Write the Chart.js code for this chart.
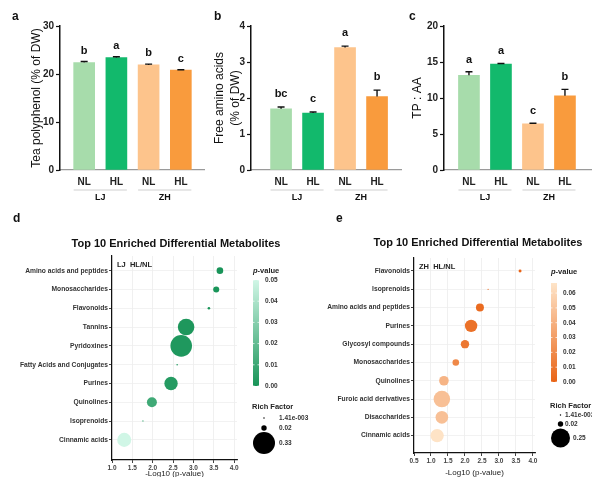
<!DOCTYPE html>
<html>
<head>
<meta charset="utf-8">
<script src="https://cdn.jsdelivr.net/npm/chart.js@4.4.0/dist/chart.umd.min.js"></script>
<style>
  html, body { margin: 0; padding: 0; background: #fff; }
  #fig { position: relative; width: 592px; height: 477px; overflow: hidden; }
  #fig canvas { position: absolute; }
  .tag { position: absolute; font: bold 12px 'Liberation Sans', Arial, sans-serif; line-height: 12px; color: #111; }
</style>
</head>
<body>
<div id="fig">
  <canvas id="chartA" width="205" height="205" style="left:0;top:0"></canvas>
  <canvas id="chartB" width="202" height="205" style="left:200px;top:0"></canvas>
  <canvas id="chartC" width="192" height="205" style="left:400px;top:0"></canvas>
  <canvas id="chartD" width="312" height="276" style="left:0;top:205px"></canvas>
  <canvas id="chartE" width="292" height="276" style="left:300px;top:205px"></canvas>
  <div class="tag" style="left:12px;top:10px">a</div>
  <div class="tag" style="left:214px;top:10px">b</div>
  <div class="tag" style="left:409px;top:10px">c</div>
  <div class="tag" style="left:13px;top:212px">d</div>
  <div class="tag" style="left:336px;top:212px">e</div>
</div>
<script>
const FONT = "'Liberation Sans', Arial, sans-serif";
Chart.defaults.font.family = FONT;

// top row: bars
const treatments = ['NL', 'HL', 'NL', 'HL'];
const groups = ['LJ', 'ZH'];
const barColors = ['#a7dcab', '#12b96c', '#fdc48c', '#f99b3d'];

const teaPolyphenol = [22.4, 23.4, 21.9, 20.8];
const teaPolyphenolErr = [0.2, 0.2, 0.15, 0.1];
const teaPolyphenolSig = ['b', 'a', 'b', 'c'];

const aminoAcids = [1.70, 1.58, 3.40, 2.04];
const aminoAcidsErr = [0.05, 0.03, 0.04, 0.18];
const aminoAcidsSig = ['bc', 'c', 'a', 'b'];

const tpAa = [13.15, 14.7, 6.4, 10.3];
const tpAaErr = [0.5, 0.1, 0.1, 0.9];
const tpAaSig = ['a', 'a', 'c', 'b'];

// bottom row: enrichment bubbles
const ljCategories = ['Amino acids and peptides', 'Monosaccharides', 'Flavonoids', 'Tannins', 'Pyridoxines',
  'Fatty Acids and Conjugates', 'Purines', 'Quinolines', 'Isoprenoids', 'Cinnamic acids'];
const ljNegLogP = [3.65, 3.56, 3.38, 2.82, 2.70, 2.60, 2.45, 1.98, 1.76, 1.30];
const ljRichFactor = [0.030, 0.025, 0.0046, 0.188, 0.318, 0.0017, 0.122, 0.068, 0.0014, 0.134];
const ljXTicks = [1.0, 1.5, 2.0, 2.5, 3.0, 3.5, 4.0];
const ljPTicks = [0, 0.01, 0.02, 0.03, 0.04, 0.05];
const ljSizeBreaks = [0.00141, 0.02, 0.33];
const ljSizeLabels = ['1.41e-003', '0.02', '0.33'];

const zhCategories = ['Flavonoids', 'Isoprenoids', 'Amino acids and peptides', 'Purines', 'Glycosyl compounds',
  'Monosaccharides', 'Quinolines', 'Furoic acid derivatives', 'Disaccharides', 'Cinnamic acids'];
const zhNegLogP = [3.62, 2.68, 2.44, 2.18, 2.00, 1.73, 1.38, 1.32, 1.32, 1.18];
const zhRichFactor = [0.0062, 0.001, 0.044, 0.106, 0.049, 0.030, 0.064, 0.19, 0.11, 0.124];
const zhXTicks = [0.5, 1.0, 1.5, 2.0, 2.5, 3.0, 3.5, 4.0];
const zhPTicks = [0, 0.01, 0.02, 0.03, 0.04, 0.05, 0.06];
const zhSizeBreaks = [0.00141, 0.02, 0.25];
const zhSizeLabels = ['1.41e-003', '0.02', '0.25'];

const barExtras = {
  id: 'barExtras',
  afterDatasetsDraw(chart, args, o) {
    const ctx = chart.ctx, xs = chart.scales.x, ys = chart.scales.y;
    const half = 10.5;
    ctx.save();
    chart.data.datasets[0].data.forEach((d, i) => {
      const x = xs.getPixelForValue(d.x);
      const y0 = ys.getPixelForValue(d.y);
      const y1 = ys.getPixelForValue(d.y + o.errors[i]);
      ctx.strokeStyle = '#111';
      ctx.lineWidth = 1.4;
      ctx.beginPath();
      ctx.moveTo(x, y0); ctx.lineTo(x, y1);
      ctx.moveTo(x - 3.5, y1); ctx.lineTo(x + 3.5, y1);
      ctx.stroke();
      ctx.fillStyle = '#111';
      ctx.font = 'bold 11px ' + FONT;
      ctx.textAlign = 'center';
      ctx.textBaseline = 'alphabetic';
      ctx.fillText(o.letters[i], x, y1 - o.gap);
    });
    const lineY = chart.chartArea.bottom + 20;
    groups.forEach((g, k) => {
      const xa = xs.getPixelForValue(2 * k) - half;
      const xb = xs.getPixelForValue(2 * k + 1) + half;
      ctx.strokeStyle = '#cfcfcf';
      ctx.lineWidth = 1.2;
      ctx.beginPath(); ctx.moveTo(xa, lineY); ctx.lineTo(xb, lineY); ctx.stroke();
      ctx.fillStyle = '#111';
      ctx.font = 'bold 9px ' + FONT;
      ctx.textAlign = 'center';
      ctx.textBaseline = 'middle';
      ctx.fillText(g, (xa + xb) / 2, lineY + 7.5);
    });
    ctx.restore();
  }
};

function barPanel(id, values, errors, letters, yMax, yStep, yTitle, titlePad, lineH, xMin, xMax, axisW, gap) {
  return new Chart(document.getElementById(id), {
    type: 'bar',
    data: {
      datasets: [{
        data: values.map((v, i) => ({ x: i, y: v })),
        backgroundColor: barColors,
        borderWidth: 0,
        barThickness: 21
      }]
    },
    options: {
      responsive: false,
      animation: false,
      layout: { padding: { top: 26, left: 0, right: 0, bottom: 0 } },
      plugins: {
        legend: { display: false },
        tooltip: { enabled: false },
        barExtras: { errors: errors, letters: letters, gap: gap }
      },
      scales: {
        x: {
          type: 'linear', min: xMin, max: xMax, offset: false,
          afterBuildTicks: s => { s.ticks = treatments.map((t, i) => ({ value: i })); },
          afterFit: s => { s.height = 35; },
          grid: { display: false, drawTicks: false },
          border: { color: '#9a9a9a', width: 1.3 },
          ticks: { callback: v => treatments[v], font: { size: 10, weight: 'bold' }, color: '#222', padding: 6, maxRotation: 0, autoSkip: false }
        },
        y: {
          min: 0, max: yMax,
          afterFit: s => { s.width = axisW; },
          grid: { drawOnChartArea: false, tickLength: 4, tickColor: '#111', tickWidth: 1.2 },
          border: { color: '#111', width: 1.5 },
          ticks: { stepSize: yStep, font: { size: 10, weight: 'bold' }, color: '#222', padding: 2 },
          title: { display: true, text: yTitle, font: { size: 12, lineHeight: lineH }, color: '#111', padding: { top: titlePad, bottom: 0 } }
        }
      }
    },
    plugins: [barExtras]
  });
}

barPanel('chartA', teaPolyphenol, teaPolyphenolErr, teaPolyphenolSig, 30, 10, 'Tea polyphenol (% of DW)', 29.8, 1.2, -0.75, 3.75, 60, 8);
barPanel('chartB', aminoAcids, aminoAcidsErr, aminoAcidsSig, 4, 1, ['Free amino acids', '(% of DW)'], 12.2, 1.3, -0.94, 3.78, 51, 10);
barPanel('chartC', tpAa, tpAaErr, tpAaSig, 20, 5, 'TP : AA', 10.8, 1.2, -0.78, 3.845, 44, 9);

// bubbles
function mix(c0, c1, t) {
  t = Math.max(0, Math.min(1, t));
  return 'rgb(' + c0.map((c, k) => Math.round(c + (c1[k] - c) * t)).join(',') + ')';
}

const enrichExtras = {
  id: 'enrichExtras',
  afterDraw(chart, args, o) {
    const ctx = chart.ctx, a = chart.chartArea;
    ctx.save();
    ctx.fillStyle = '#111';
    ctx.font = 'bold 11px ' + FONT;
    ctx.textAlign = 'center';
    ctx.textBaseline = 'middle';
    ctx.fillText(o.title, o.titleX, o.titleY);

    ctx.font = 'bold 7.5px ' + FONT;
    ctx.textAlign = 'left';
    ctx.fillStyle = '#222';
    ctx.fillText(o.tag, a.left + 5, o.tagY);

    // p-value colour bar
    const lx = a.right + 16, bw = 6;
    ctx.font = 'italic bold 7.5px ' + FONT;
    ctx.fillText('p', lx, o.pTitleY);
    const pw = ctx.measureText('p').width;
    ctx.font = 'bold 7.5px ' + FONT;
    ctx.fillText('-value', lx + pw, o.pTitleY);
    const g = ctx.createLinearGradient(0, o.barTop, 0, o.barBottom);
    g.addColorStop(0, mix(o.light, o.light, 0));
    g.addColorStop(1, mix(o.dark, o.dark, 0));
    ctx.fillStyle = g;
    ctx.fillRect(lx, o.barTop, bw, o.barBottom - o.barTop);
    ctx.font = 'bold 6.5px ' + FONT;
    o.pTicks.forEach(v => {
      const y = o.barBottom - v / o.pMax * (o.barBottom - o.barTop);
      ctx.strokeStyle = 'rgba(255,255,255,0.9)';
      ctx.lineWidth = 0.8;
      ctx.beginPath();
      ctx.moveTo(lx, y); ctx.lineTo(lx + 1.5, y);
      ctx.moveTo(lx + bw - 1.5, y); ctx.lineTo(lx + bw, y);
      ctx.stroke();
      ctx.fillStyle = '#333';
      ctx.fillText(v.toFixed(2), lx + bw + 6, y);
    });

    // rich factor size legend
    ctx.fillStyle = '#222';
    ctx.font = 'bold 7.5px ' + FONT;
    ctx.fillText('Rich Factor', lx - 1, o.sizeTitleY);
    ctx.font = 'bold 6.5px ' + FONT;
    o.sizeBreaks.forEach((v, i) => {
      const r = o.rRef * Math.sqrt(v / o.vRef);
      ctx.fillStyle = '#000';
      ctx.beginPath();
      ctx.arc(lx + o.rRef, o.sizeY[i], Math.max(r, 0.6), 0, Math.PI * 2);
      ctx.fill();
      ctx.fillStyle = '#333';
      ctx.fillText(o.sizeLabels[i], lx + o.labelDx[i], o.sizeY[i]);
    });
    ctx.restore();
  }
};

function enrichPanel(id, cats, negLogP, rich, xTicks, xMin, xMax, yMin, yMax, padTop, padRight, axisW, xAxisH, titlePadB, extras) {
  const pColor = x => mix(extras.dark, extras.light, Math.pow(10, -x) / extras.pMax);
  return new Chart(document.getElementById(id), {
    type: 'bubble',
    data: {
      datasets: [{
        data: cats.map((c, i) => ({ x: negLogP[i], y: i, r: extras.rRef * Math.sqrt(rich[i] / extras.vRef) })),
        backgroundColor: negLogP.map(pColor),
        borderWidth: 0,
        hoverRadius: 0
      }]
    },
    options: {
      responsive: false,
      animation: false,
      layout: { padding: { top: padTop, right: padRight, left: 0, bottom: 0 } },
      plugins: { legend: { display: false }, tooltip: { enabled: false }, enrichExtras: extras },
      scales: {
        x: {
          type: 'linear', min: xMin, max: xMax,
          afterBuildTicks: s => { s.ticks = xTicks.map(v => ({ value: v })); },
          afterFit: s => { s.height = xAxisH; },
          grid: { color: '#ececec', lineWidth: 0.8, tickLength: 3, tickColor: '#111' },
          border: { color: '#111', width: 1.2 },
          ticks: { callback: v => v.toFixed(1), font: { size: 6.5, weight: 'bold' }, color: '#444', padding: 1, maxRotation: 0, autoSkip: false },
          title: { display: true, text: '-Log10 (p-value)', font: { size: 8 }, color: '#222', padding: { top: 0, bottom: titlePadB } }
        },
        y: {
          type: 'linear', reverse: true, min: yMin, max: yMax,
          afterBuildTicks: s => { s.ticks = cats.map((c, i) => ({ value: i })); },
          afterFit: s => { s.width = axisW; },
          grid: { color: '#efefef', lineWidth: 0.8, tickLength: 3, tickColor: '#111' },
          border: { color: '#111', width: 1.2 },
          ticks: { callback: v => cats[v], font: { size: 6.7, weight: 'bold' }, color: '#333', padding: 1, autoSkip: false }
        }
      }
    },
    plugins: [enrichExtras]
  });
}

enrichPanel('chartD', ljCategories, ljNegLogP, ljRichFactor, ljXTicks, 1.0, 4.07, -0.78, 10.07, 51, 75, 112, 21, 2.2, {
  title: 'Top 10 Enriched Differential Metabolites', titleX: 176, titleY: 39,
  tag: 'LJ  HL/NL', tagY: 60,
  light: [208, 246, 230], dark: [24, 148, 88], pMax: 0.05, pTicks: ljPTicks,
  pTitleY: 66, barTop: 75, barBottom: 181,
  sizeBreaks: ljSizeBreaks, sizeLabels: ljSizeLabels, rRef: 11, vRef: 0.33,
  sizeTitleY: 202, sizeY: [213, 223, 238], labelDx: [26, 26, 26]
});

enrichPanel('chartE', zhCategories, zhNegLogP, zhRichFactor, zhXTicks, 0.5, 4.06, -0.71, 9.95, 53, 57, 114, 28, 3.7, {
  title: 'Top 10 Enriched Differential Metabolites', titleX: 178, titleY: 38,
  tag: 'ZH  HL/NL', tagY: 62,
  light: [254, 228, 200], dark: [233, 100, 22], pMax: 0.0668, pTicks: zhPTicks,
  pTitleY: 67, barTop: 78, barBottom: 177,
  sizeBreaks: zhSizeBreaks, sizeLabels: zhSizeLabels, rRef: 9.5, vRef: 0.25,
  sizeTitleY: 201, sizeY: [210, 219, 233], labelDx: [14, 14, 22]
});
</script>
</body>
</html>
